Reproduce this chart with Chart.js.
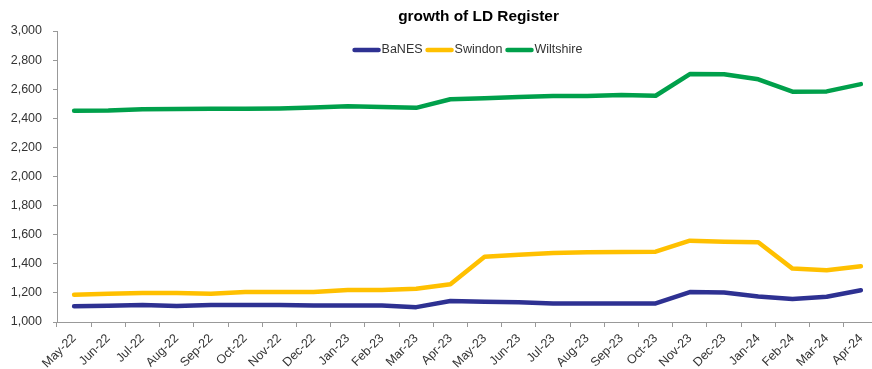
<!DOCTYPE html>
<html>
<head>
<meta charset="utf-8">
<script src="https://cdn.jsdelivr.net/npm/chart.js@4.4.1/dist/chart.umd.min.js"></script>
<style>
  html, body { margin: 0; padding: 0; background: #fff; overflow: hidden; }
  #wrap { width: 880px; height: 369px; }
</style>
</head>
<body>
<div id="wrap"><canvas id="chartCanvas"></canvas></div>
<script>
const months = ["May-22", "Jun-22", "Jul-22", "Aug-22", "Sep-22", "Oct-22", "Nov-22", "Dec-22",
  "Jan-23", "Feb-23", "Mar-23", "Apr-23", "May-23", "Jun-23", "Jul-23", "Aug-23", "Sep-23", "Oct-23",
  "Nov-23", "Dec-23", "Jan-24", "Feb-24", "Mar-24", "Apr-24"];

const banes = [1108, 1112, 1117, 1110, 1117, 1117, 1117, 1114, 1114, 1114, 1102, 1144,
  1140, 1135, 1128, 1128, 1128, 1128, 1206, 1202, 1176, 1158, 1174, 1218];
const swindon = [1188, 1195, 1199, 1199, 1195, 1206, 1206, 1206, 1220, 1220, 1229, 1259,
  1449, 1463, 1474, 1479, 1481, 1483, 1559, 1552, 1548, 1367, 1355, 1383];
const wiltshire = [2452, 2453, 2463, 2464, 2465, 2466, 2468, 2474, 2482, 2478, 2472, 2531,
  2537, 2547, 2553, 2554, 2560, 2555, 2704, 2703, 2668, 2583, 2585, 2635];

const yTicks = { min: 1000, max: 3000, step: 200 };
const chartTitle = "growth of LD Register";

const FONT = "Arial, 'Liberation Sans', sans-serif";
const TEXT = "#333";
const AXIS = "#999";

function series(label, data, color) {
  return {
    label: label,
    data: data,
    borderColor: color,
    backgroundColor: color,
    borderWidth: 4.5,
    pointRadius: 0,
    tension: 0,
    borderCapStyle: "round",
    borderJoinStyle: "round"
  };
}

// title and legend sit over the top of the plot, so they are painted by hand
const headerPlugin = {
  id: "header",
  afterDraw(chart) {
    const ctx = chart.ctx;
    const area = chart.chartArea;
    const mid = (area.left + area.right) / 2;
    ctx.save();

    ctx.font = "bold 15.4px " + FONT;
    ctx.fillStyle = "#000";
    ctx.textAlign = "center";
    ctx.textBaseline = "middle";
    ctx.fillText(chartTitle, mid + 11, 17);

    ctx.font = "12.5px " + FONT;
    const swatch = 28, gap = 1, after = 3;
    const items = chart.data.datasets.map(ds => ({
      text: ds.label, color: ds.borderColor, w: ctx.measureText(ds.label).width
    }));
    let total = 0;
    items.forEach(it => { total += swatch + gap + it.w + after; });
    total -= after;
    let x = mid - total / 2;
    const y = 50;
    ctx.textAlign = "left";
    items.forEach(it => {
      ctx.strokeStyle = it.color;
      ctx.lineWidth = 4.5;
      ctx.lineCap = "round";
      ctx.beginPath();
      ctx.moveTo(x + 2, y);
      ctx.lineTo(x + swatch - 2, y);
      ctx.stroke();
      ctx.fillStyle = TEXT;
      ctx.fillText(it.text, x + swatch + gap, y);
      x += swatch + gap + it.w + after;
    });
    ctx.restore();
  }
};

const ctx = document.getElementById("chartCanvas").getContext("2d");
new Chart(ctx, {
  type: "line",
  data: {
    labels: months,
    datasets: [
      series("BaNES", banes, "#2E3192"),
      series("Swindon", swindon, "#FFC000"),
      series("Wiltshire", wiltshire, "#00A04B")
    ]
  },
  options: {
    responsive: true,
    maintainAspectRatio: false,
    animation: false,
    layout: { padding: { top: 31, right: 2, bottom: 0, left: 0 } },
    plugins: {
      legend: { display: false },
      title: { display: false },
      tooltip: { enabled: false }
    },
    scales: {
      x: {
        offset: true,
        afterFit(scale) { scale.height = 47; },
        border: { color: AXIS, width: 1 },
        grid: { offset: true, drawOnChartArea: false, tickLength: 5, color: AXIS },
        ticks: {
          color: TEXT, font: { family: FONT, size: 12.5 },
          maxRotation: 45, minRotation: 45, autoSkip: false, padding: 4
        }
      },
      y: {
        min: yTicks.min,
        max: yTicks.max,
        afterFit(scale) { scale.width = 57; },
        border: { color: AXIS, width: 1 },
        grid: { drawOnChartArea: false, tickLength: 4, color: AXIS },
        ticks: {
          stepSize: yTicks.step, color: TEXT, padding: 11,
          font: { family: FONT, size: 12.5 },
          callback: v => v.toLocaleString("en-US")
        }
      }
    }
  },
  plugins: [headerPlugin]
});
</script>
</body>
</html>
